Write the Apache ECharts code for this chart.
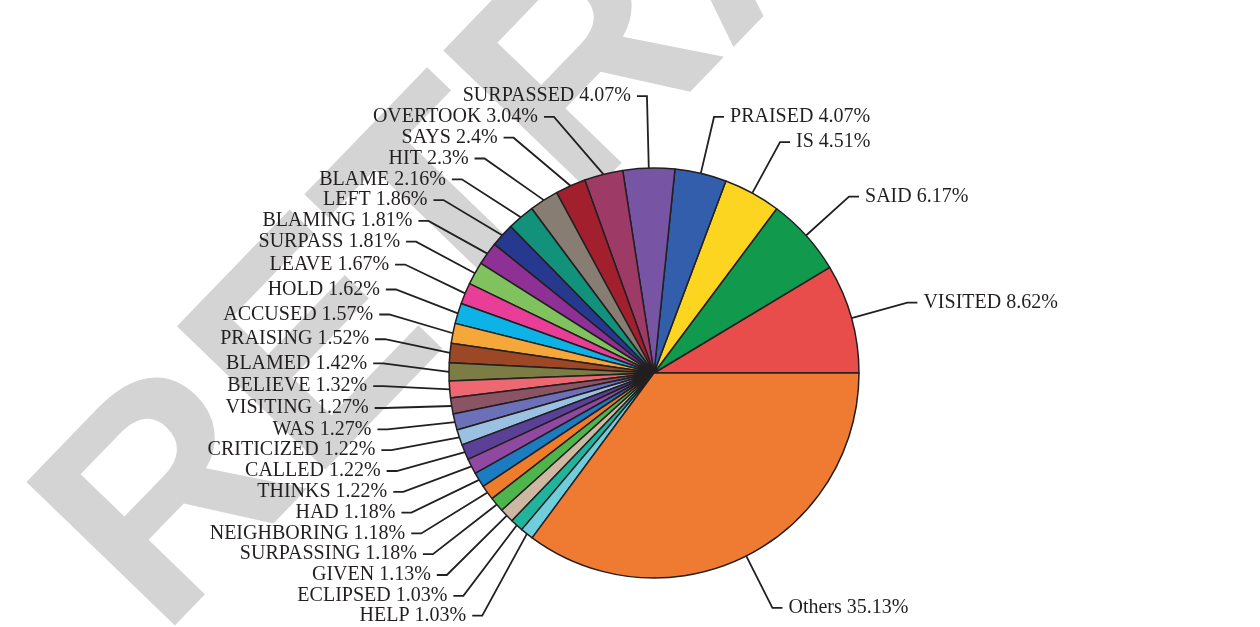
<!DOCTYPE html>
<html>
<head>
<meta charset="utf-8">
<script src="https://cdn.jsdelivr.net/npm/echarts@6/dist/echarts.min.js"></script>
<style>
html,body{margin:0;padding:0;background:#fff;}
#chart{width:1260px;height:627px;}
</style>
</head>
<body>
<div id="chart"></div>
<script>
const categories = ["VISITED","SAID","IS","PRAISED","SURPASSED","OVERTOOK","SAYS","HIT","BLAME","LEFT","BLAMING","SURPASS","LEAVE","HOLD","ACCUSED","PRAISING","BLAMED","BELIEVE","VISITING","WAS","CRITICIZED","CALLED","THINKS","HAD","NEIGHBORING","SURPASSING","GIVEN","ECLIPSED","HELP","Others"];
const percentages = [8.62,6.17,4.51,4.07,4.07,3.04,2.4,2.3,2.16,1.86,1.81,1.81,1.67,1.62,1.57,1.52,1.42,1.32,1.27,1.27,1.22,1.22,1.22,1.18,1.18,1.18,1.13,1.03,1.03,35.13];
const sliceColors = ["#e84c4b","#119a4d","#fcd521","#335eac","#7854a4","#9d3a65","#a21f2d","#877d73","#12917b","#27398f","#8e3096","#80c35e","#e83e98","#0db2e7","#f5a73a","#9c4827","#7b7d44","#ed6871","#8a5464","#6c70b8","#9ac0e2","#5b4097","#8f49a0","#1b7cc1","#ef7c2b","#4db54b","#ccb8a3","#20b49c","#70cedc","#ef7b32"];
const watermarkText = "RETRACTED";

const chart = echarts.init(document.getElementById('chart'), null, {renderer:'canvas'});

// label line length: longer for the crowded left half
const total = percentages.reduce((a, b) => a + b, 0);
let acc = 0;
const data = categories.map((c, i) => {
  const mid = (acc + percentages[i] / 2) / total * 2 * Math.PI;
  acc += percentages[i];
  const leftSide = Math.cos(mid) < 0;
  return {
    name: c,
    value: percentages[i],
    itemStyle: {color: sliceColors[i]},
    labelLine: {length: leftSide ? 72 : 58}
  };
});

chart.setOption({
  animation: false,
  backgroundColor: '#ffffff',
  graphic: [{
    type: 'text',
    x: 744, y: -83,
    rotation: 46 * Math.PI / 180,
    z: -100,
    silent: true,
    style: {
      text: watermarkText,
      font: 'bold 300px "Liberation Sans"',
      fill: '#d4d4d4',
      textAlign: 'center',
      textVerticalAlign: 'middle'
    }
  }],
  series: [{
    type: 'pie',
    center: [654, 373],
    radius: 205,
    startAngle: 0,
    clockwise: false,
    avoidLabelOverlap: true,
    data: data,
    itemStyle: {borderColor: '#231f20', borderWidth: 1.5},
    label: {
      show: true,
      formatter: p => p.name + ' ' + p.value + '%',
      fontFamily: '"Liberation Serif", serif',
      fontSize: 20,
      minMargin: 0.8,
      color: '#231f20',
      distanceToLabelLine: 6
    },
    labelLayout: {hideOverlap: false},
    labelLine: {
      show: true,
      length2: 10,
      lineStyle: {color: '#231f20', width: 1.8}
    },
    emphasis: {disabled: true}
  }]
});
</script>
</body>
</html>
